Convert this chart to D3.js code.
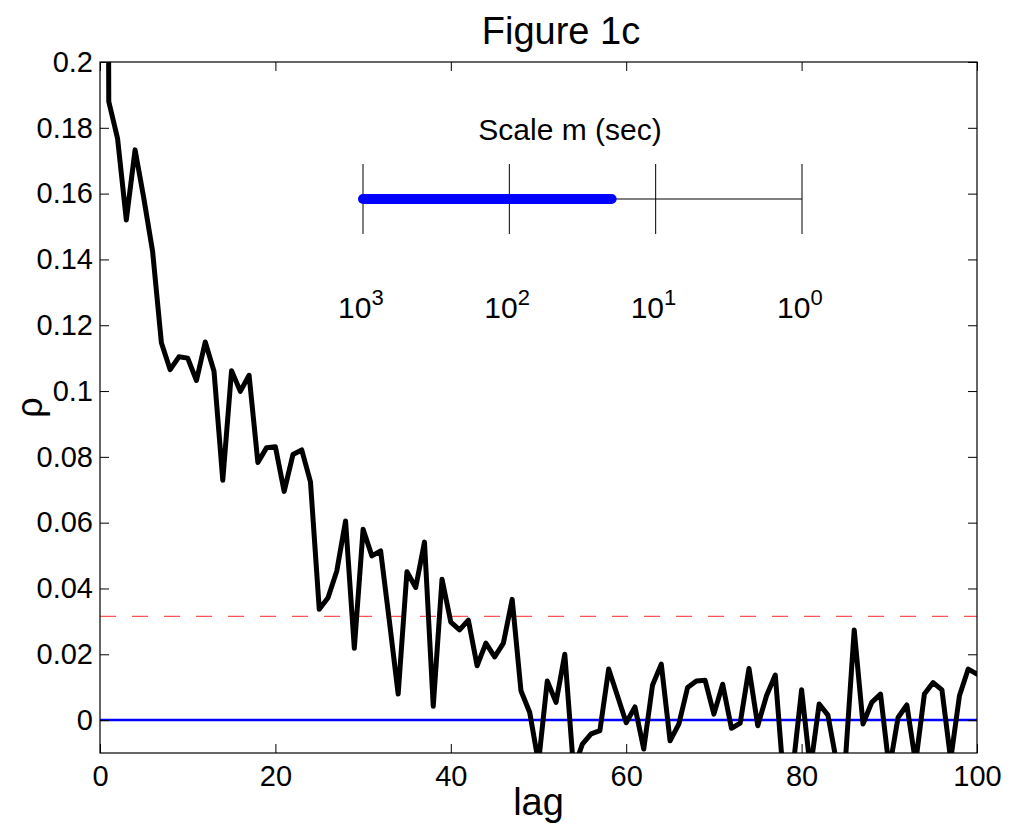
<!DOCTYPE html>
<html>
<head>
<meta charset="utf-8">
<script src="https://cdn.jsdelivr.net/npm/d3@7"></script>
<style>
  html, body { margin: 0; padding: 0; background: #fff; }
  svg { display: block; }
  text { font-family: "Liberation Sans", Arial, Helvetica, sans-serif; fill: #000; }
</style>
</head>
<body>
<svg id="chart" width="1014" height="834"></svg>
<script>
// ---- data ----
const lags = [0,1,2,3,4,5,6,7,8,9,10,11,12,13,14,15,16,17,18,19,20,21,22,23,24,25,26,27,28,29,30,31,32,33,34,35,36,37,38,39,40,41,42,43,44,45,46,47,48,49,50,51,52,53,54,55,56,57,58,59,60,61,62,63,64,65,66,67,68,69,70,71,72,73,74,75,76,77,78,79,80,81,82,83,84,85,86,87,88,89,90,91,92,93,94,95,96,97,98,99,100];
const rho = [1.0, 0.188, 0.1768, 0.152, 0.1733, 0.1585, 0.1424, 0.1147, 0.1065, 0.1104,
  0.110, 0.1032, 0.1149, 0.106, 0.0729, 0.1062, 0.0999, 0.1048, 0.0783, 0.0828,
  0.0831, 0.0695, 0.0807, 0.0821, 0.0724, 0.0337, 0.0372, 0.0453, 0.0605, 0.0218,
  0.058, 0.0499, 0.0514, 0.030, 0.0079, 0.0451, 0.0403, 0.0541, 0.0042, 0.0428,
  0.0298, 0.0274, 0.0304, 0.0165, 0.0234, 0.0192, 0.0234, 0.0367, 0.0089, 0.0023,
  -0.013, 0.0119, 0.0054, 0.020, -0.015, -0.0073, -0.0042, -0.0032, 0.0155, 0.0074,
  -0.0008, 0.004, -0.0088, 0.0106, 0.017, -0.0063, -0.0012, 0.0099, 0.0119, 0.0121,
  0.0018, 0.0109, -0.0025, -0.0009, 0.0157, -0.0017, 0.0074, 0.0137, -0.02, -0.015,
  0.0092, -0.015, 0.0049, 0.0015, -0.013, -0.012, 0.0274, -0.0012, 0.0054, 0.0079,
  -0.015, 0.0008, 0.0046, -0.013, 0.0079, 0.0114, 0.0092, -0.012, 0.0074, 0.0155,
  0.014];
const threshold = 0.0315;      // red dashed significance line
const zeroLine = 0;            // blue line
const xTicks = [0, 20, 40, 60, 80, 100];
const yTicks = [0, 0.02, 0.04, 0.06, 0.08, 0.1, 0.12, 0.14, 0.16, 0.18, 0.2];
const yTickLabels = ["0", "0.02", "0.04", "0.06", "0.08", "0.1", "0.12", "0.14", "0.16", "0.18", "0.2"];
const scaleTicks = [1000, 100, 10, 1];
const scaleExponents = ["3", "2", "1", "0"];
const scaleRange = [1000, 20];  // highlighted range of scale m (sec)

// ---- layout ----
const svg = d3.select("#chart");
const L = 100, R = 977, T = 62, B = 753;

const x = d3.scaleLinear().domain([0, 100]).range([L, R]);
const y = d3.scaleLinear().domain([-0.01, 0.2]).range([B, T]);

svg.append("defs").append("clipPath").attr("id", "clip")
  .append("rect").attr("x", L).attr("y", T).attr("width", R - L).attr("height", B - T);

const plot = svg.append("g").attr("clip-path", "url(#clip)");

// red dashed line
plot.append("line")
  .attr("x1", x(0)).attr("x2", x(100))
  .attr("y1", y(threshold)).attr("y2", y(threshold))
  .attr("stroke", "#ff5555").attr("stroke-width", 1.3)
  .attr("stroke-dasharray", "16,16");

// blue zero line
plot.append("line")
  .attr("x1", x(0)).attr("x2", x(100))
  .attr("y1", y(zeroLine)).attr("y2", y(zeroLine))
  .attr("stroke", "#0000ff").attr("stroke-width", 2.5);

// data line
const line = d3.line().x((d, i) => x(lags[i])).y(d => y(d));
plot.append("path")
  .datum(rho)
  .attr("d", line)
  .attr("fill", "none")
  .attr("stroke", "#000")
  .attr("stroke-width", 5)
  .attr("stroke-linejoin", "round")
  .attr("stroke-linecap", "round");

// axes box
svg.append("rect").attr("x", L).attr("y", T).attr("width", R - L).attr("height", B - T)
  .attr("fill", "none").attr("stroke", "#000").attr("stroke-width", 1.2);

const fs = 29;
// x axis (bottom) with inward ticks
const xAxis = d3.axisBottom(x).tickValues(xTicks).tickSize(-9).tickPadding(12).tickFormat(d3.format("d"));
const gx = svg.append("g").attr("transform", `translate(0,${B})`).call(xAxis);
gx.select(".domain").remove();
gx.selectAll("text").attr("font-size", fs).attr("dy", "0.71em").style("font-family", "'Liberation Sans', Arial, sans-serif");
gx.selectAll("line").attr("stroke", "#000");
// top ticks
const gxt = svg.append("g").attr("transform", `translate(0,${T})`)
  .call(d3.axisTop(x).tickValues(xTicks).tickSize(-9).tickFormat(""));
gxt.select(".domain").remove();

// y axis left
const yAxis = d3.axisLeft(y).tickValues(yTicks).tickSize(-9).tickPadding(7)
  .tickFormat((d, i) => yTickLabels[i]);
const gy = svg.append("g").attr("transform", `translate(${L},0)`).call(yAxis);
gy.select(".domain").remove();
gy.selectAll("text").attr("font-size", fs).style("font-family", "'Liberation Sans', Arial, sans-serif");
// right ticks
const gyr = svg.append("g").attr("transform", `translate(${R},0)`)
  .call(d3.axisRight(y).tickValues(yTicks).tickSize(-9).tickFormat(""));
gyr.select(".domain").remove();

// labels
svg.append("text").attr("x", x(50)).attr("y", 815).attr("text-anchor", "middle")
  .attr("font-size", 38).text("lag");
svg.append("text").attr("transform", `translate(42,${(T + B) / 2}) rotate(-90)`)
  .attr("text-anchor", "middle").attr("font-size", 36).text("ρ");
svg.append("text").attr("x", 561).attr("y", 44).attr("text-anchor", "middle")
  .attr("font-size", 38).text("Figure 1c");

// ---- inset: scale m (sec) ----
const s = d3.scaleLog().domain([1000, 1]).range([363, 802]);
const insetY = 199;
const inset = svg.append("g");
inset.append("line").attr("x1", s(1000)).attr("x2", s(1))
  .attr("y1", insetY).attr("y2", insetY).attr("stroke", "#000").attr("stroke-width", 1);
inset.selectAll("line.tk").data(scaleTicks).enter().append("line").attr("class", "tk")
  .attr("x1", d => s(d)).attr("x2", d => s(d))
  .attr("y1", insetY - 35).attr("y2", insetY + 35)
  .attr("stroke", "#000").attr("stroke-width", 1);
inset.append("line")
  .attr("x1", s(scaleRange[0])).attr("x2", s(scaleRange[1]))
  .attr("y1", insetY).attr("y2", insetY)
  .attr("stroke", "#0000ff").attr("stroke-width", 10).attr("stroke-linecap", "round");
inset.append("text").attr("x", 570).attr("y", 140).attr("text-anchor", "middle")
  .attr("font-size", 30).text("Scale m (sec)");
const lbl = inset.selectAll("text.lbl").data(scaleTicks).enter().append("text").attr("class", "lbl")
  .attr("x", d => s(d) - 25).attr("y", 318).attr("font-size", 30);
lbl.append("tspan").text("10");
lbl.append("tspan").attr("dy", -13).attr("font-size", 22).text((d, i) => scaleExponents[i]);
</script>
</body>
</html>
